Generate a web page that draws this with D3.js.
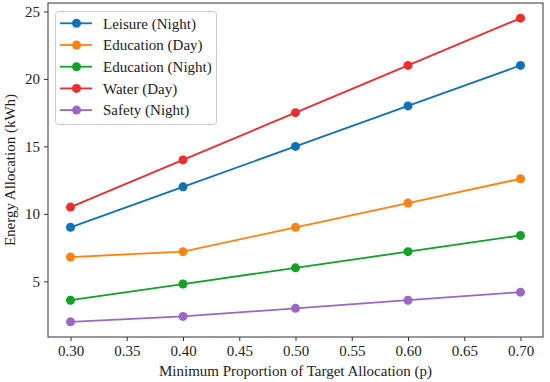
<!DOCTYPE html>
<html><head><meta charset="utf-8">
<script src="https://cdn.jsdelivr.net/npm/d3@7"></script>
<style>
body{margin:0;background:#fff;}
svg{display:block;font-family:"Liberation Serif","Times New Roman",serif;}
</style></head>
<body><svg id="c" width="550" height="382"></svg>
<script>
const pValues = [0.30, 0.40, 0.50, 0.60, 0.70];
const seriesNames = ["Leisure (Night)", "Education (Day)", "Education (Night)", "Water (Day)", "Safety (Night)"];
const leisureNight = [9.0, 12.0, 15.0, 18.0, 21.0];
const educationDay = [6.8, 7.2, 9.0, 10.8, 12.6];
const educationNight = [3.6, 4.8, 6.0, 7.2, 8.4];
const waterDay = [10.5, 14.0, 17.5, 21.0, 24.5];
const safetyNight = [2.0, 2.4, 3.0, 3.6, 4.2];
const xTicks = [0.30, 0.35, 0.40, 0.45, 0.50, 0.55, 0.60, 0.65, 0.70];
const yTicks = [5, 10, 15, 20, 25];
const colors = ["#0a73bb", "#ff820f", "#10a326", "#f52a2a", "#9b67c6"];

const series = [leisureNight, educationDay, educationNight, waterDay, safetyNight];
const svg = d3.select("#c");
const L = 48, R = 543, T = 3, B = 337;
const FS = 15;
const x = d3.scaleLinear().domain([0.28, 0.72]).range([L, R]);
const allV = series.flat();
const vmin = d3.min(allV), vmax = d3.max(allV), pad = (vmax - vmin) * 0.05;
const y = d3.scaleLinear().domain([vmin - pad, vmax + pad]).range([B, T]);

const xAxis = svg.append("g").attr("transform", `translate(0,${B})`)
  .call(d3.axisBottom(x).tickValues(xTicks).tickFormat(d3.format(".2f")).tickSizeOuter(0).tickSize(4).tickPadding(4));
const yAxis = svg.append("g").attr("transform", `translate(${L},0)`)
  .call(d3.axisLeft(y).tickValues(yTicks).tickFormat(d3.format("d")).tickSizeOuter(0).tickSize(4).tickPadding(4));
[xAxis, yAxis].forEach(a => {
  a.select(".domain").remove();
  a.selectAll("text").attr("font-size", FS).attr("fill", "#222").style("font-family", "Liberation Serif");
  a.selectAll("line").attr("stroke", "#333");
});
svg.append("rect").attr("x", L).attr("y", T).attr("width", R - L).attr("height", B - T)
  .attr("fill", "none").attr("stroke", "#333").attr("stroke-width", 1);

const line = d3.line().x((d, i) => x(pValues[i])).y(d => y(d));
series.forEach((s, k) => {
  svg.append("path").datum(s).attr("d", line).attr("fill", "none")
    .attr("stroke", colors[k]).attr("stroke-width", 1.8);
  svg.selectAll(null).data(s).enter().append("circle")
    .attr("cx", (d, i) => x(pValues[i])).attr("cy", d => y(d)).attr("r", 4.5).attr("fill", colors[k]);
});

svg.append("text").attr("x", (L + R) / 2).attr("y", 376).attr("text-anchor", "middle")
  .attr("font-size", FS).attr("fill", "#222").text("Minimum Proportion of Target Allocation (p)");
svg.append("text").attr("transform", `translate(15,${(T + B) / 2}) rotate(-90)`).attr("text-anchor", "middle")
  .attr("font-size", FS).attr("fill", "#222").text("Energy Allocation (kWh)");

const lg = svg.append("g");
lg.append("rect").attr("x", 55.5).attr("y", 11.5).attr("width", 161).attr("height", 113).attr("rx", 3)
  .attr("fill", "#fff").attr("fill-opacity", 0.8).attr("stroke", "#ccc");
seriesNames.forEach((n, k) => {
  const yy = 23.3 + k * 21.7;
  lg.append("line").attr("x1", 60).attr("x2", 92).attr("y1", yy).attr("y2", yy).attr("stroke", colors[k]).attr("stroke-width", 1.8);
  lg.append("circle").attr("cx", 76.5).attr("cy", yy).attr("r", 4.5).attr("fill", colors[k]);
  lg.append("text").attr("x", 103).attr("y", yy).attr("dy", "0.35em").attr("font-size", FS).attr("fill", "#222").text(n);
});
</script></body></html>
